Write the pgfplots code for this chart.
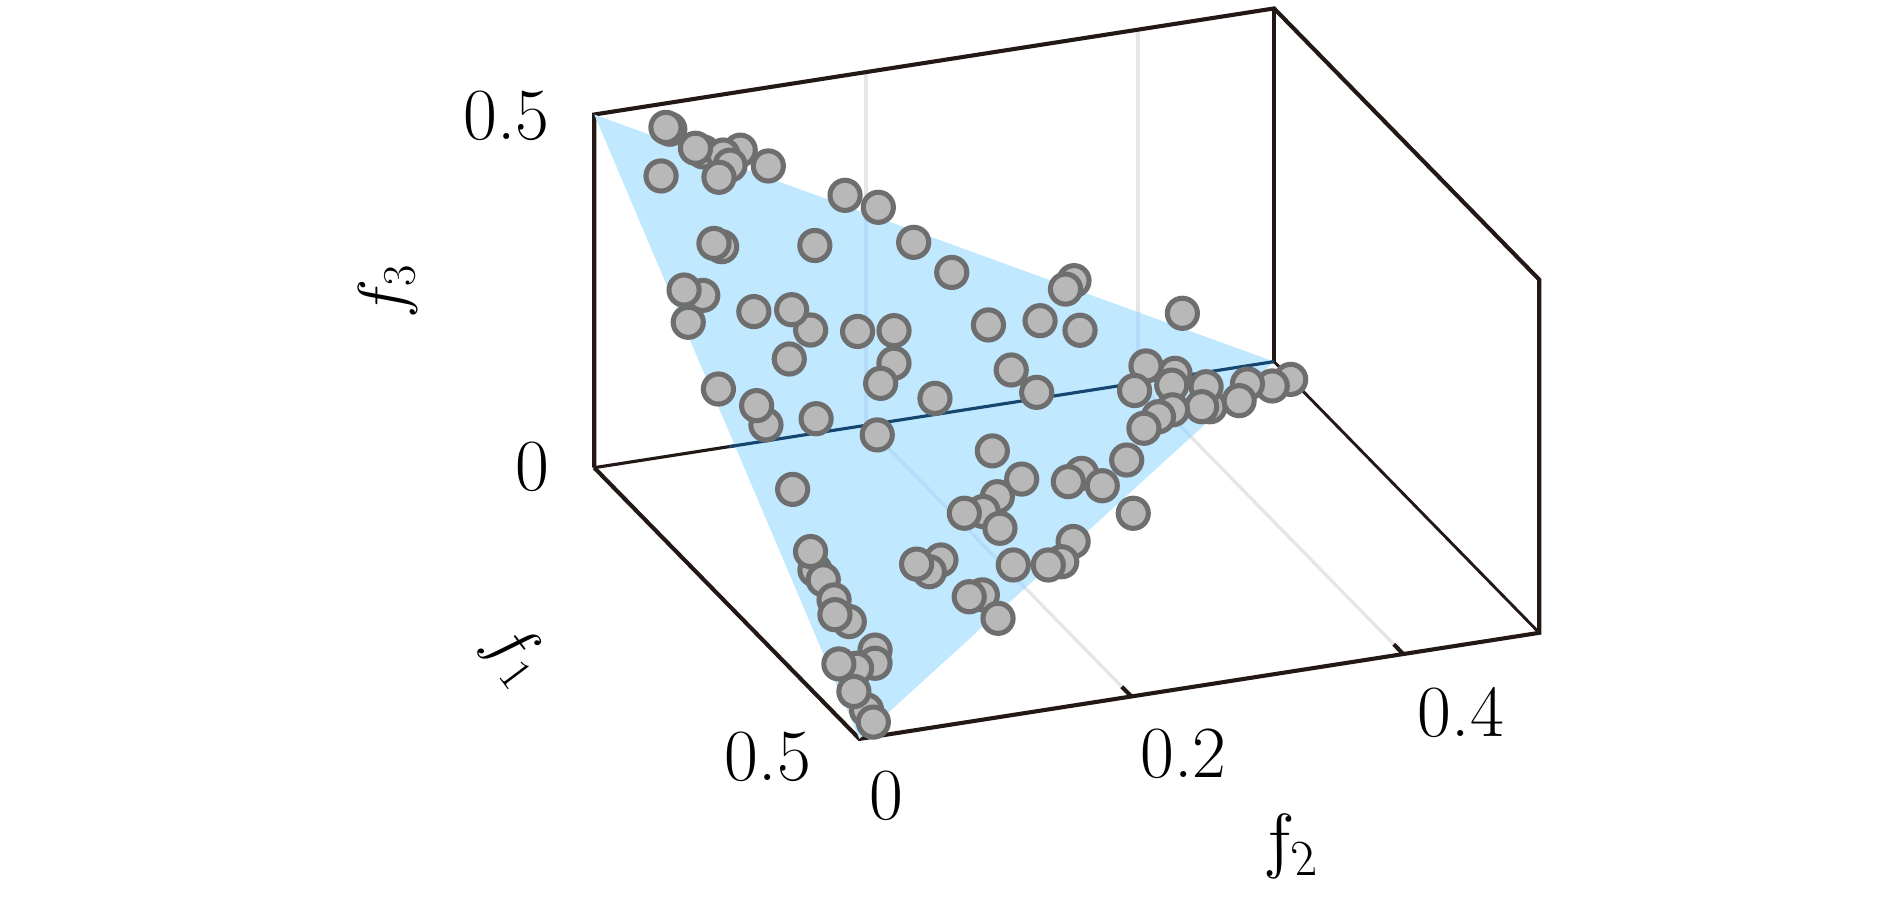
\RequirePackage{fix-cm}
\documentclass[border=0pt]{standalone}
\usepackage{pgfplots}
\pgfplotsset{compat=1.18}
\definecolor{boxc}{HTML}{231815}
\definecolor{gridc}{HTML}{E6E6E6}
\definecolor{tri}{HTML}{C0E8FF}
\definecolor{gridb}{HTML}{B4DCFA}
\definecolor{navy}{HTML}{14466F}
\definecolor{mfill}{HTML}{B8B8B8}
\definecolor{medge}{HTML}{6E6E6E}
\newcommand{\num}[1]{\fontsize{30.5}{34}\selectfont #1}
\newcommand{\lab}[2]{\fontsize{#1}{34}\selectfont $#2$}
\begin{document}
\begin{tikzpicture}[x=0.5pt,y=-0.5pt]
\path[use as bounding box] (0,0) rectangle (1568,748);
\begin{axis}[at={(246.5pt,-194pt)},anchor=origin,
  x={(220pt,-225pt)},y={(564pt,88pt)},z={(0pt,293pt)},
  xmin=0,xmax=0.5,ymin=0,ymax=0.5,zmin=0,zmax=0.5,
  hide axis,clip=false]
% grid lines behind the triangle
\addplot3[gridc,line width=1.4pt] coordinates {(0,0.2,0) (0,0.2,0.5)};
\addplot3[gridc,line width=1.4pt] coordinates {(0,0.4,0) (0,0.4,0.5)};
\addplot3[gridc,line width=1.4pt] coordinates {(0,0.2,0) (0.5,0.2,0)};
\addplot3[gridc,line width=1.4pt] coordinates {(0,0.4,0) (0.5,0.4,0)};
% box
\addplot3[boxc,line width=1.3pt] coordinates {(0,0,0) (0,0.5,0)};
\addplot3[boxc,line width=1.4pt] coordinates {(0,0.5,0) (0,0.5,0.5)};
\addplot3[boxc,line width=1.2pt] coordinates {(0,0.5,0) (0.5,0.5,0)};
\addplot3[boxc,line width=1.7pt] coordinates {(0,0,0) (0,0,0.5) (0,0.5,0.5) (0.5,0.5,0.5) (0.5,0.5,0) (0.5,0,0) (0,0,0)};
% ticks
\addplot3[boxc,line width=1.7pt] coordinates {(0.482,0.2,0) (0.5,0.2,0)};
\addplot3[boxc,line width=1.7pt] coordinates {(0.482,0.4,0) (0.5,0.4,0)};
% triangle
\addplot3[fill=tri,draw=none] coordinates {(0,0,0.5) (0.5,0,0) (0,0.5,0)};
% lines seen through the triangle
\addplot3[gridb,line width=1.4pt] coordinates {(0,0.2,0) (0,0.2,0.3)};
\addplot3[gridb,line width=1.4pt] coordinates {(0,0.4,0) (0,0.4,0.1)};
\addplot3[gridb,line width=1.4pt] coordinates {(0,0.2,0) (0.3,0.2,0)};
\addplot3[gridb,line width=1.4pt] coordinates {(0,0.4,0) (0.1,0.4,0)};
\addplot3[navy,line width=1.3pt] coordinates {(0,0.099,0) (0,0.5,0)};
% solutions
\addplot3[only marks,mark=*,mark size=6.25pt,mark options={fill=mfill,draw=medge,line width=2.1pt}] table {
-0.0121 0.0603 0.4518
-0.0125 0.0576 0.4549
-0.0165 0.1138 0.4027
-0.0021 0.0811 0.4210
-0.0060 0.0972 0.4088
0.0012 0.0994 0.3994
-0.0029 0.0756 0.4273
0.0165 0.0853 0.3982
0.0352 0.0354 0.4294
-0.0112 0.1324 0.3788
-0.0098 0.1883 0.3215
-0.0099 0.2128 0.2971
0.0813 0.0620 0.3567
0.0809 0.0565 0.3626
0.0481 0.1435 0.3084
0.0111 0.2306 0.2583
0.0265 0.2526 0.2209
0.1339 0.0276 0.3385
0.1353 0.0133 0.3514
0.1644 0.0050 0.3306
0.1317 0.0660 0.3023
0.1296 0.1086 0.2618
0.1169 0.0996 0.2835
0.1148 0.1489 0.2363
0.1324 0.1688 0.1988
0.1015 0.1809 0.2176
0.1644 0.0793 0.2563
0.1560 0.1498 0.1942
0.0636 0.2651 0.1713
-0.0078 0.3559 0.1519
0.0031 0.3454 0.1515
0.0418 0.3116 0.1466
0.0371 0.3428 0.1201
-0.0142 0.4381 0.0761
0.0984 0.2683 0.1333
0.1108 0.2822 0.1070
0.2172 0.0066 0.2762
0.2348 0.0347 0.2305
0.2198 0.0337 0.2465
0.2117 0.0806 0.2077
0.1515 0.1915 0.1570
0.2060 0.1278 0.1662
0.1815 0.2220 0.0965
0.2867 0.0341 0.1792
0.0452 0.4095 0.0453
0.0482 0.3870 0.0648
0.0575 0.4023 0.0402
0.0754 0.3680 0.0566
0.0648 0.4276 0.0076
0.0472 0.4316 0.0212
0.0676 0.4204 0.0120
0.0806 0.3939 0.0255
0.0920 0.3791 0.0289
0.1079 0.3622 0.0299
0.0111 0.5079 -0.0190
0.0237 0.4894 -0.0131
0.0303 0.4686 0.0011
0.0490 0.4552 -0.0042
0.1439 0.3355 0.0206
0.1721 0.2913 0.0366
0.1767 0.3047 0.0186
0.1845 0.2767 0.0388
0.1981 0.2371 0.0648
0.1921 0.3215 -0.0136
0.2232 0.2094 0.0674
0.2421 0.1916 0.0663
0.2522 0.2000 0.0478
0.2502 0.1746 0.0752
0.2395 0.2588 0.0017
0.2626 0.2414 -0.0040
0.2703 0.2285 0.0012
0.2823 0.1981 0.0196
0.3025 0.1370 0.0605
0.3176 0.1226 0.0598
0.3148 0.1143 0.0709
0.3213 0.1601 0.0186
0.3276 0.1480 0.0244
0.3381 0.1651 -0.0032
0.3554 0.0237 0.1209
0.3394 0.0267 0.1339
0.3618 0.0273 0.1109
0.3771 0.0293 0.0936
0.3924 0.0345 0.0731
0.3908 0.0246 0.0846
0.4105 0.0464 0.0431
0.4230 0.0415 0.0355
0.4341 0.0236 0.0423
0.4361 0.0098 0.0541
0.4701 0.0169 0.0130
0.4570 0.0127 0.0303
0.4793 0.0183 0.0024
};
\end{axis}
\node at (420,96) {\num{0.5}};
\node at (442,387) {\num{0}};
\node at (637,628) {\num{0.5}};
\node at (735,660) {\num{0}};
\node at (982,625) {\num{0.2}};
\node at (1212,591) {\num{0.4}};
\node[rotate=90] at (322,242) {\lab{27.5}{f_3}};
\node[rotate=-53] at (427,543) {\lab{27.5}{f_{\mkern1mu 1}}};
\node[xslant=-0.2,transform shape] at (1067,702) {\lab{30}{f_{\mkern-1mu 2}}};
\end{tikzpicture}
\end{document}
